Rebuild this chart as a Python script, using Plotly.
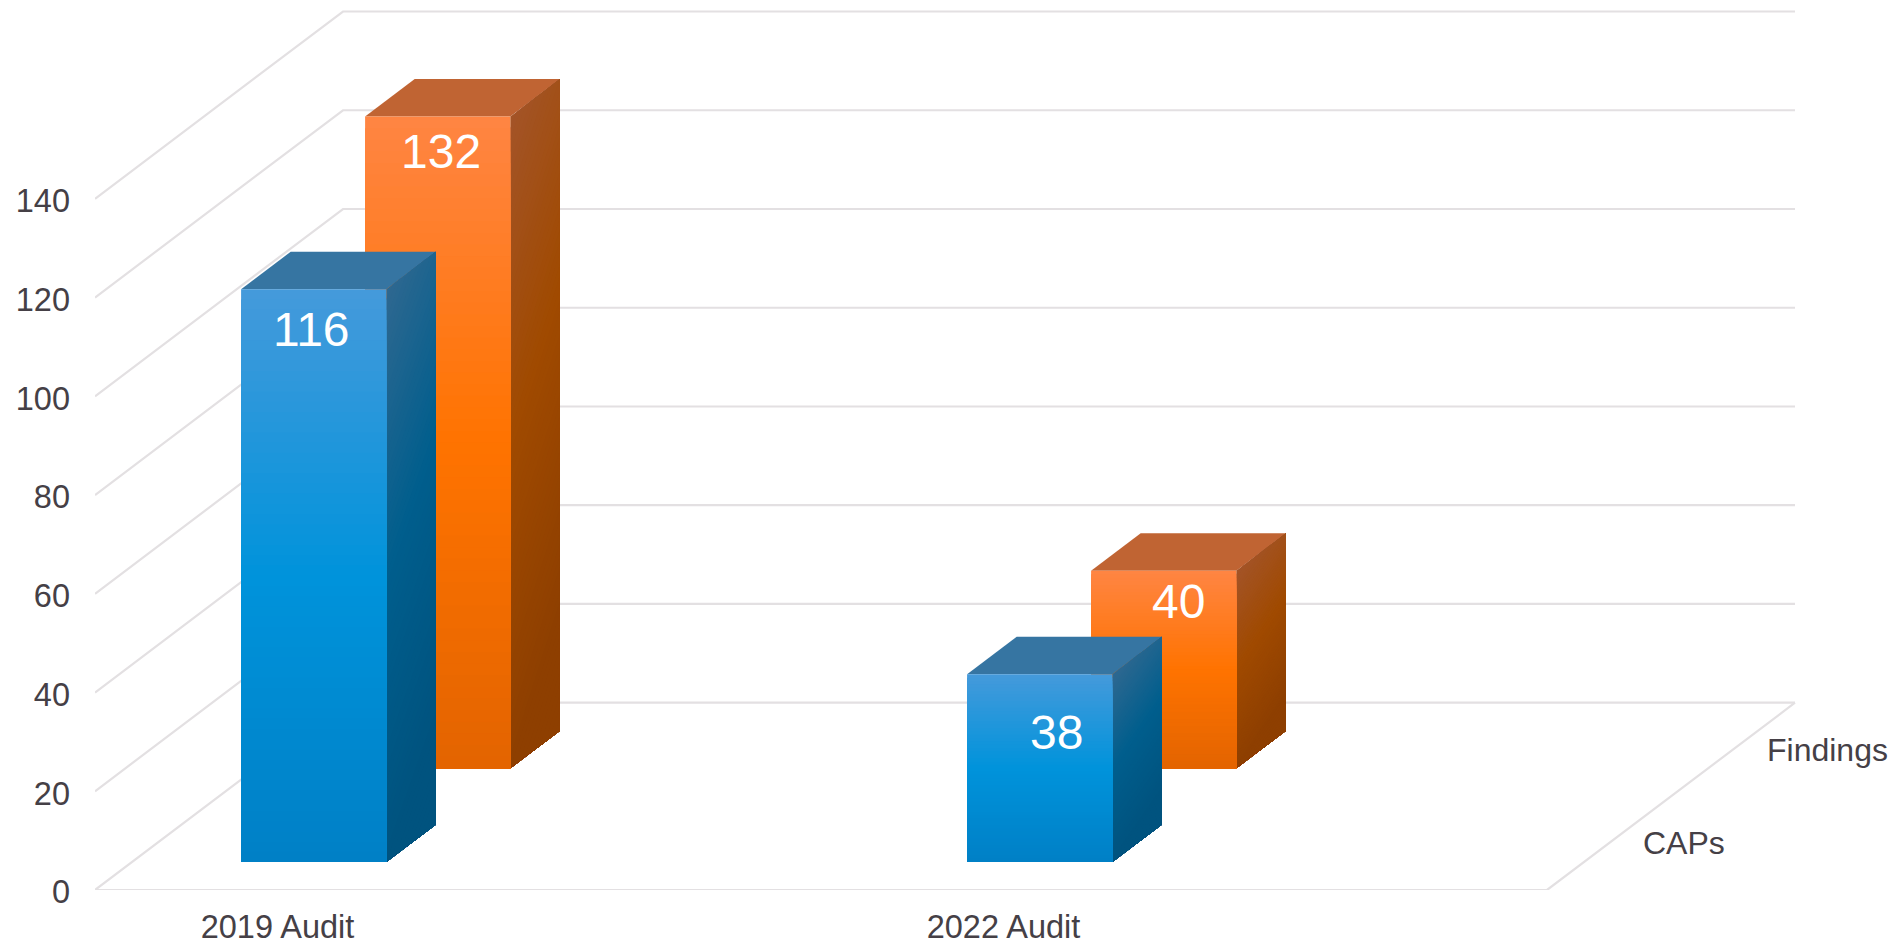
import plotly.graph_objects as go

# ---- data ----
categories = ["2019 Audit", "", "2022 Audit", ""]
series_names = ["CAPs", "Findings"]
caps_values = [116, None, 38, None]
findings_values = [132, None, 40, None]
value_ticks = [0, 20, 40, 60, 80, 100, 120, 140]

# ---- geometry of the oblique box (styling, pixels) ----
W, H = 1895, 944
LEFT, BOTTOM = 95, 54
CAT_PX, UNIT_PX = 363.0, 4.937
DEPTH_X_PX, DEPTH_Y_PX = 248.0, 187.3
DX, DY = DEPTH_X_PX / CAT_PX, DEPTH_Y_PX / UNIT_PX
BAR_W, BAR_D = 0.4, 0.2
GRID = "#E3E0E2"
TEXT = "#454046"
FONT = "Liberation Sans, Arial, sans-serif"

def proj(cat, depth, val):
    return cat + depth * DX, val + depth * DY

def hex2rgb(h):
    return tuple(int(h[i:i + 2], 16) for i in (1, 3, 5))

def grad(stops, t):
    t = max(0.0, min(1.0, t))
    if t <= 0.5:
        a, b, u = stops[0], stops[1], t / 0.5
    else:
        a, b, u = stops[1], stops[2], (t - 0.5) / 0.5
    a, b = hex2rgb(a), hex2rgb(b)
    return "rgb(%d,%d,%d)" % tuple(round(a[i] + (b[i] - a[i]) * u) for i in range(3))

PALETTE = {
    "CAPs": dict(front=("#459ADB", "#0093DB", "#0080C6"),
                 side=("#2F6890", "#005E8D", "#00537F"), top="#3675A2"),
    "Findings": dict(front=("#FF8543", "#FF7300", "#E36400"),
                     side=("#A35428", "#A04A00", "#8E3F00"), top="#C06433"),
}
BANDS = 56

fig = go.Figure()

def add_poly(xs, ys, color):
    fig.add_trace(go.Scatter(x=xs, y=ys, mode="lines", fill="toself", fillcolor=color,
                             line=dict(color=color, width=0, simplify=False),
                             hoverinfo="skip", showlegend=False))

def add_face(corner, stops, tilt):
    """corner(u, w) maps face coords (u across, w down from top) to plot coords.
    Painted from top to bottom: each band covers everything below it, so no seams show."""
    n = int(BANDS * (1 + tilt))
    us = [i / 8 for i in range(9)] if tilt else [0.0, 1.0]
    for k in range(n):
        t = k / BANDS
        edge = [(u, min(1.0, max(0.0, t - tilt * u))) for u in us]
        pts = [corner(u, w) for u, w in edge] + [corner(1, 1), corner(0, 1)]
        pts.append(pts[0])
        add_poly([p[0] for p in pts], [p[1] for p in pts], grad(stops, t + 0.5 / BANDS))

# walls and floor: each gridline runs from the front-left edge to the back wall and across
gx, gy = [], []
for v in value_ticks:
    a, b, c = proj(0, 0, v), proj(0, 1, v), proj(len(categories), 1, v)
    gx += [a[0], b[0], c[0], None]
    gy += [a[1], b[1], c[1], None]
f0, f1, f2 = proj(0, 0, 0), proj(len(categories), 0, 0), proj(len(categories), 1, 0)
gx += [f0[0], f1[0], f2[0]]
gy += [f0[1], f1[1], f2[1]]
fig.add_trace(go.Scatter(x=gx, y=gy, mode="lines", line=dict(color=GRID, width=2.2),
                         hoverinfo="skip", showlegend=False))

def add_bar(i_cat, i_series, value, name):
    pal = PALETTE[name]
    x0 = i_cat + (1 - BAR_W) / 2
    x1 = x0 + BAR_W
    d0 = (i_series + 0.5) / 2 - BAR_D / 2
    d1 = d0 + BAR_D
    # top
    top = [proj(x0, d0, value), proj(x1, d0, value), proj(x1, d1, value), proj(x0, d1, value), proj(x0, d0, value)]
    add_poly([p[0] for p in top], [p[1] for p in top], pal["top"])
    # right side
    add_face(lambda u, w: proj(x1, d0 + (d1 - d0) * u, value * (1 - w)), pal["side"], 0.18)
    # front
    add_face(lambda u, w: proj(x0 + (x1 - x0) * u, d0, value * (1 - w)), pal["front"], 0.0)

for i_s, (name, vals) in reversed(list(enumerate(zip(series_names, [caps_values, findings_values])))):
    for i_c, v in enumerate(vals):
        if v is not None:
            add_bar(i_c, i_s, v, name)

# value labels, nudged from the top-centre of each bar's front face (as placed in the reference)
nudges = {("CAPs", 0): (-2, -40), ("CAPs", 2): (17, -58),
          ("Findings", 0): (3, -35), ("Findings", 2): (15, -31)}
ann = []
for i_s, (name, vals) in enumerate(zip(series_names, [caps_values, findings_values])):
    d0 = (i_s + 0.5) / 2 - BAR_D / 2
    for i_c, v in enumerate(vals):
        if v is None:
            continue
        px, py = proj(i_c + 0.5, d0, v)
        sx, sy = nudges[(name, i_c)]
        ann.append(dict(x=px, y=py, text=str(v), showarrow=False, xshift=sx, yshift=sy,
                        font=dict(family=FONT, size=48, color="#FFFFFF")))
    # series name on the depth axis
    px, py = proj(len(categories), (i_s + 0.5) / 2, 0)
    ann.append(dict(x=px, y=py, text=name, showarrow=False, xanchor="left", xshift=32,
                    font=dict(family=FONT, size=32, color=TEXT)))

fig.update_layout(
    width=W, height=H, autosize=False,
    margin=dict(l=LEFT, r=0, t=0, b=BOTTOM, pad=0, autoexpand=False),
    paper_bgcolor="#FFFFFF", plot_bgcolor="#FFFFFF",
    showlegend=False, annotations=ann,
    xaxis=dict(range=[0, (W - LEFT) / CAT_PX], showgrid=False, zeroline=False, showline=False,
               automargin=False, tickmode="array",
               tickvals=[i + 0.5 for i, c in enumerate(categories) if c],
               ticktext=[c for c in categories if c],
               ticks="", ticklabelstandoff=14, ticklabelshift=1,
               tickfont=dict(family=FONT, size=32.5, color=TEXT)),
    yaxis=dict(range=[0, (H - BOTTOM) / UNIT_PX], showgrid=False, zeroline=False, showline=False,
               automargin=False, tickmode="array", tickvals=value_ticks,
               ticktext=[str(v) for v in value_ticks],
               ticks="", ticklabelstandoff=24, ticklabelshift=2,
               tickfont=dict(family=FONT, size=32.5, color=TEXT)),
)

fig.write_html("out.html", config={"displayModeBar": False},
               post_script="document.body.style.margin='0';document.body.style.overflow='hidden';")
